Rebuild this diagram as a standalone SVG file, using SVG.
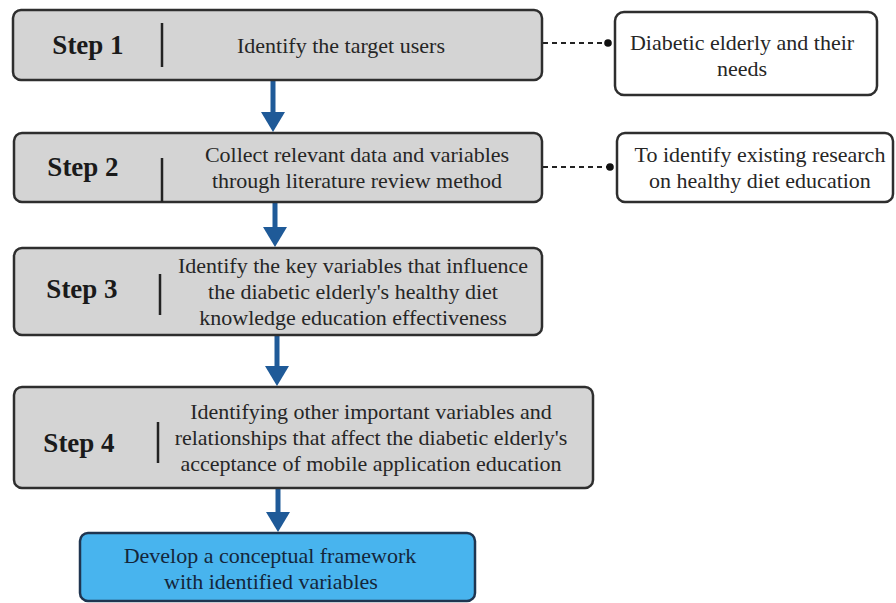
<svg xmlns="http://www.w3.org/2000/svg" width="896" height="603" viewBox="0 0 896 603">
<style>
.step rect{fill:#d4d4d4;stroke:#2e2e2e;stroke-width:2.5}
.side rect{fill:#ffffff;stroke:#2e2e2e;stroke-width:2.5}
.final rect{fill:#48b4ee;stroke:#1f3550;stroke-width:2.5}
.div{stroke:#222;stroke-width:2.5}
text{font-family:"Liberation Serif","Times New Roman",serif;font-size:22px;fill:#262626;text-anchor:middle}
.lbl{font-weight:bold;font-size:27px;fill:#1a1a1a}
.final text{fill:#14263a}
.arrow{stroke:#1f5a98;stroke-width:5;fill:none}
.dash{stroke:#222;stroke-width:2.2;stroke-dasharray:5 4;fill:none}
</style>
<defs>
<marker id="ah" markerUnits="userSpaceOnUse" viewBox="0 0 20 24" markerWidth="20" markerHeight="24" refX="10" refY="12" orient="auto">
<path d="M0,0 L20,12 L0,24 z" fill="#1f5a98"/>
</marker>
<marker id="dot" markerUnits="userSpaceOnUse" viewBox="0 0 8 8" markerWidth="8" markerHeight="8" refX="4" refY="4">
<circle cx="4" cy="4" r="3.8" fill="#111"/>
</marker>
</defs>

<g id="connectors">
<line class="arrow" x1="273" y1="80" x2="273" y2="122" marker-end="url(#ah)"/>
<line class="arrow" x1="275" y1="202" x2="275" y2="237" marker-end="url(#ah)"/>
<line class="arrow" x1="277" y1="335" x2="277" y2="376" marker-end="url(#ah)"/>
<line class="arrow" x1="278" y1="488" x2="278" y2="522" marker-end="url(#ah)"/>
<line class="dash" x1="543" y1="43" x2="608" y2="43" marker-end="url(#dot)"/>
<line class="dash" x1="543" y1="167" x2="610" y2="167" marker-end="url(#dot)"/>
</g>

<g id="step1" class="step">
<rect x="13" y="10" width="529" height="70" rx="8"/>
<line class="div" x1="162" y1="23" x2="162" y2="67"/>
<text class="lbl" x="88" y="54">Step 1</text>
<text x="341" y="53">Identify the target users</text>
</g>

<g id="step2" class="step">
<rect x="14" y="133" width="528" height="69" rx="8"/>
<line class="div" x1="162" y1="158" x2="162" y2="202"/>
<text class="lbl" x="83" y="176">Step 2</text>
<text x="357" y="162">Collect relevant data and variables</text>
<text x="357" y="188">through literature review method</text>
</g>

<g id="step3" class="step">
<rect x="14" y="248" width="528" height="87" rx="8"/>
<line class="div" x1="160" y1="274" x2="160" y2="315"/>
<text class="lbl" x="82" y="298">Step 3</text>
<text x="353" y="273">Identify the key variables that influence</text>
<text x="353" y="299">the diabetic elderly's healthy diet</text>
<text x="353" y="325">knowledge education effectiveness</text>
</g>

<g id="step4" class="step">
<rect x="14" y="387" width="579" height="101" rx="8"/>
<line class="div" x1="158" y1="422" x2="158" y2="463"/>
<text class="lbl" x="79" y="452">Step 4</text>
<text x="371" y="419">Identifying other important variables and</text>
<text x="371" y="445">relationships that affect the diabetic elderly's</text>
<text x="371" y="471">acceptance of mobile application education</text>
</g>

<g id="final" class="final">
<rect x="80" y="533" width="395" height="68" rx="8"/>
<text x="270" y="563">Develop a conceptual framework</text>
<text x="271" y="589">with identified variables</text>
</g>

<g id="side1" class="side">
<rect x="615" y="12" width="262" height="83" rx="9"/>
<text x="742" y="50">Diabetic elderly and their</text>
<text x="742" y="76">needs</text>
</g>

<g id="side2" class="side">
<rect x="617" y="133" width="276" height="69" rx="8"/>
<text x="760" y="162">To identify existing research</text>
<text x="760" y="188">on healthy diet education</text>
</g>
</svg>
